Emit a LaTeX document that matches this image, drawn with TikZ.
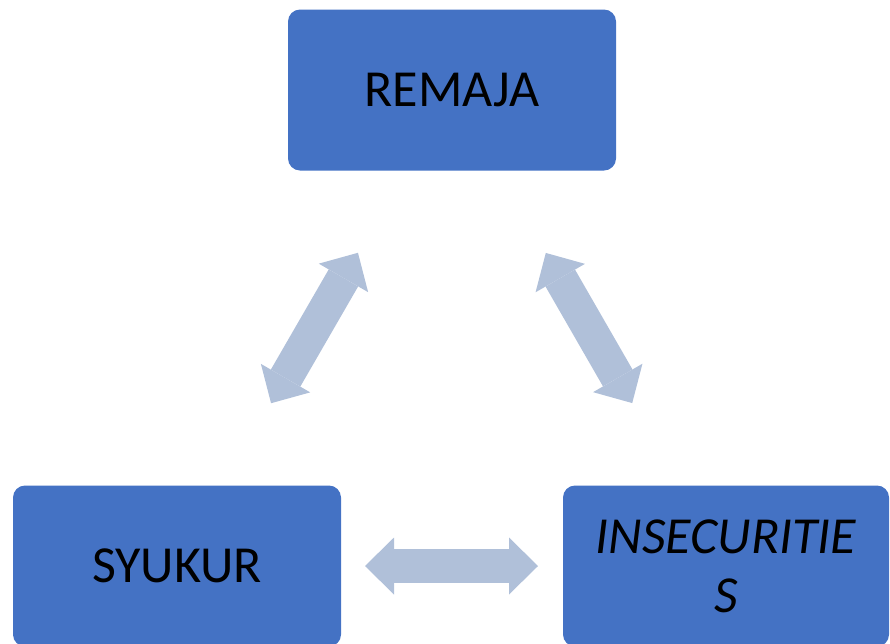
\documentclass[tikz,border=0pt]{standalone}
\usepackage{fontspec}
\setmainfont{Carlito}
\usetikzlibrary{arrows.meta}
\definecolor{boxblue}{HTML}{4472C4}
\definecolor{linkgrey}{HTML}{B0C0D9}

\begin{document}
\begin{tikzpicture}[
x=1pt, y=-1pt,
box/.style={
  fill=boxblue,
  rounded corners=12pt,
  minimum width=328pt,
  minimum height=161pt,
  align=center,
  font=\fontsize{52}{59}\selectfont
  },
link/.style={
  draw=linkgrey,
  line width=34pt,
  {Triangle[width=57pt,length=29pt,line width=0pt]}-{Triangle[width=57pt,length=29pt,line width=0pt]},
  shorten >=188pt,
  shorten <=188pt
  }
]
\useasboundingbox (0,0) rectangle (890,643);
\node[box] (remaja) at (452,90) {REMAJA};
\node[box] (syukur) at (177,566) {SYUKUR};
\node[box, minimum width=326pt, font=\fontsize{52}{59}\selectfont\itshape] (insec) at (726,566) {INSECURITIE\\S};
% links between the three boxes
\draw[link] (syukur.center) -- (remaja.center);
\draw[link] (remaja.center) -- (insec.center);
\draw[link] (syukur.center) -- (insec.center);
\end{tikzpicture}
\end{document}
